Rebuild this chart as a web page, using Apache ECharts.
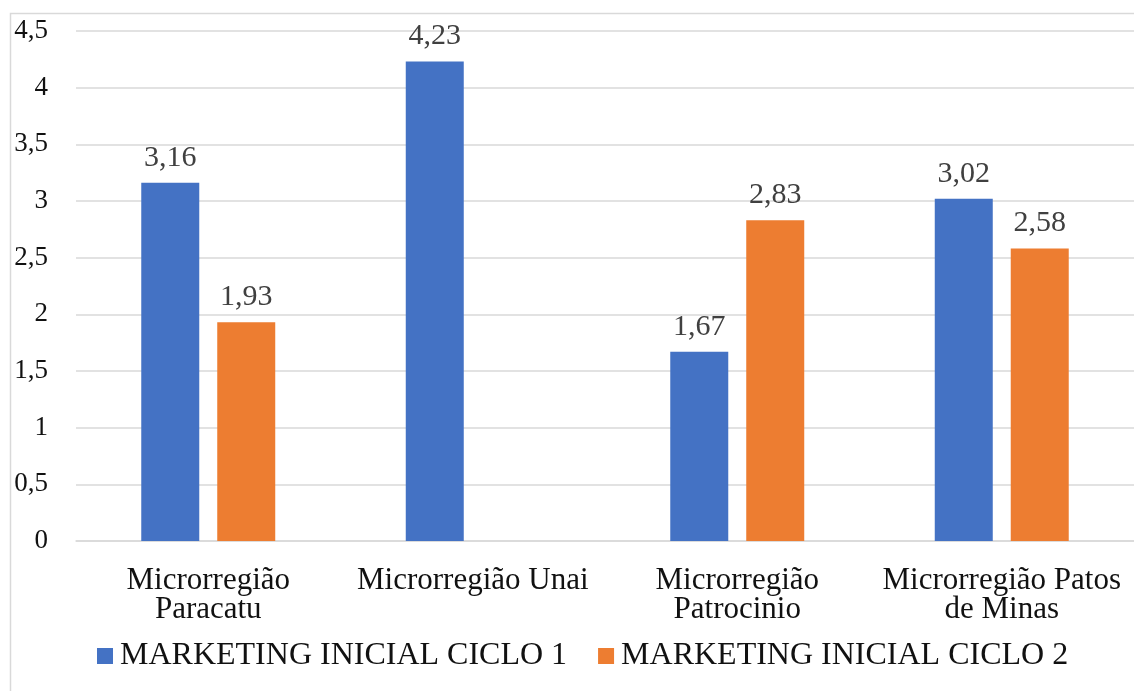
<!DOCTYPE html>
<html>
<head>
<meta charset="utf-8">
<script src="https://cdn.jsdelivr.net/npm/echarts@6/dist/echarts.min.js"></script>
<style>
html,body{margin:0;padding:0;background:#fff;}
#chart{width:1134px;height:691px;}
</style>
</head>
<body>
<div id="chart"></div>
<script>
var categories = ['Microrregião\nParacatu', 'Microrregião Unai', 'Microrregião\nPatrocinio', 'Microrregião Patos\nde Minas'];
var seriesNames = ['MARKETING INICIAL CICLO 1', 'MARKETING INICIAL CICLO 2'];
var ciclo1 = [3.16, 4.23, 1.67, 3.02];
var ciclo2 = [1.93, null, 2.83, 2.58];
var yTicks = { min: 0, max: 4.5, interval: 0.5 };

var FONT = '"Liberation Serif", "Times New Roman", serif';
function comma(v) { return String(v).replace('.', ','); }

var chart = echarts.init(document.getElementById('chart'));
chart.setOption({
  animation: false,
  backgroundColor: '#fff',
  graphic: [{
    type: 'rect',
    shape: { x: 10.5, y: 13.5, width: 1200, height: 800 },
    style: { fill: 'none', stroke: '#d9d9d9', lineWidth: 1.5 },
    silent: true
  }],
  grid: { left: 76, top: 31, width: 1062, bottom: 150, containLabel: false },
  legend: {
    left: 97,
    top: 640,
    padding: 0,
    itemWidth: 16,
    itemHeight: 16,
    itemGap: 31,
    icon: 'rect',
    textStyle: { fontFamily: FONT, fontSize: 32, color: '#111', padding: [0, 0, 0, 2] },
    data: seriesNames
  },
  xAxis: {
    type: 'category',
    data: categories,
    axisTick: { show: false },
    axisLine: { lineStyle: { color: '#d9d9d9', width: 1.5 } },
    axisLabel: {
      fontFamily: FONT, fontSize: 31, color: '#111', lineHeight: 29, margin: 25, interval: 0
    }
  },
  yAxis: {
    type: 'value',
    min: yTicks.min, max: yTicks.max, interval: yTicks.interval,
    axisLine: { show: false },
    axisTick: { show: false },
    splitLine: { lineStyle: { color: '#d9d9d9', width: 1.5 } },
    axisLabel: {
      fontFamily: FONT, fontSize: 27, color: '#111', margin: 28,
      formatter: function (v) { return comma(v); }
    }
  },
  series: [
    {
      name: seriesNames[0], type: 'bar', data: ciclo1,
      barWidth: 58, barGap: '31%',
      itemStyle: { color: '#4472C4' },
      label: {
        show: true, position: 'top', distance: 10,
        fontFamily: FONT, fontSize: 30, color: '#404040',
        formatter: function (p) { return comma(p.value); }
      }
    },
    {
      name: seriesNames[1], type: 'bar', data: ciclo2,
      barWidth: 58, barGap: '31%',
      itemStyle: { color: '#ED7D31' },
      label: {
        show: true, position: 'top', distance: 10,
        fontFamily: FONT, fontSize: 30, color: '#404040',
        formatter: function (p) { return p.value == null ? '' : comma(p.value); }
      }
    }
  ]
});
</script>
</body>
</html>
